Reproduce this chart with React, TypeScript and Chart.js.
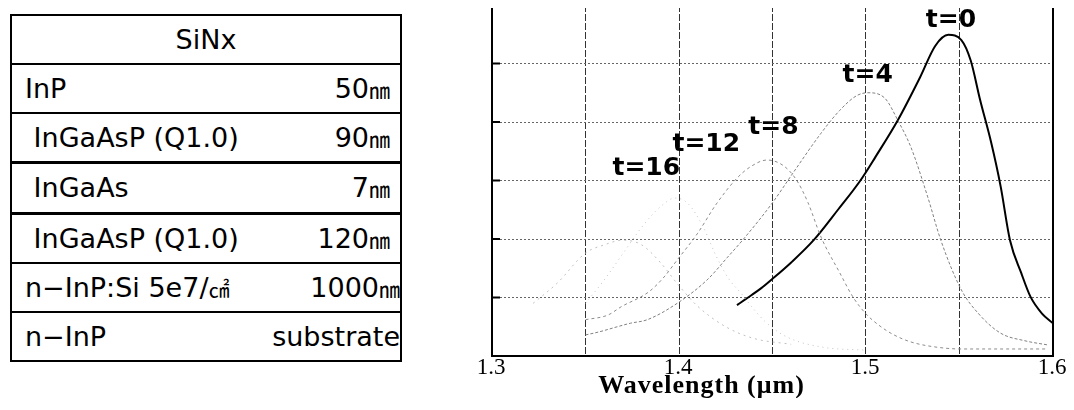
import React, { useEffect, useRef } from 'react';
import { Chart, registerables } from 'chart.js';

Chart.register(...registerables);

// ---- Layer stack (left panel) ----
const layerNames = ['SiNx', 'InP', ' InGaAsP (Q1.0)', ' InGaAs', ' InGaAsP (Q1.0)', 'n−InP:Si 5e7/㎠', 'n−InP'];
const layerThickness = ['', '50㎚', '90㎚', '7㎚', '120㎚', '1000㎚', 'substrate'];

// ---- PL spectra (right panel) ----
const t0Wavelength = [1.431, 1.436, 1.444, 1.45, 1.46, 1.472, 1.485, 1.497, 1.505, 1.517, 1.529, 1.537, 1.544, 1.551, 1.556, 1.561, 1.567, 1.572, 1.577, 1.583, 1.588, 1.594, 1.6];
const t0Intensity = [0.87, 0.98, 1.16, 1.32, 1.6, 1.98, 2.5, 3.0, 3.4, 4.03, 4.77, 5.3, 5.49, 5.4, 5.05, 4.38, 3.64, 2.9, 1.98, 1.42, 1.01, 0.73, 0.56];

const t4Wavelength = [1.35, 1.357, 1.367, 1.374, 1.383, 1.399, 1.415, 1.426, 1.434, 1.45, 1.461, 1.476, 1.486, 1.495, 1.501, 1.51, 1.517, 1.524, 1.533, 1.54, 1.551, 1.56, 1.572, 1.585, 1.597];
const t4Intensity = [0.36, 0.41, 0.5, 0.56, 0.62, 0.9, 1.3, 1.69, 1.98, 2.62, 3.13, 3.81, 4.2, 4.45, 4.5, 4.41, 4.03, 3.57, 2.72, 1.98, 1.13, 0.73, 0.39, 0.26, 0.19];

const t8Wavelength = [1.35, 1.362, 1.369, 1.384, 1.392, 1.399, 1.41, 1.42, 1.431, 1.438, 1.447, 1.456, 1.463, 1.469, 1.476, 1.486, 1.493, 1.5, 1.508, 1.515, 1.524, 1.538, 1.551, 1.575, 1.597];
const t8Intensity = [0.62, 0.7, 0.84, 1.1, 1.35, 1.64, 2.1, 2.6, 3.04, 3.23, 3.35, 3.25, 3.0, 2.62, 2.03, 1.42, 1.01, 0.72, 0.5, 0.36, 0.24, 0.15, 0.12, 0.12, 0.12];

const t12Wavelength = [1.35, 1.36, 1.37, 1.38, 1.39, 1.398, 1.405, 1.413, 1.42, 1.427, 1.433, 1.44, 1.447, 1.458, 1.477, 1.5];
const t12Intensity = [0.9, 1.3, 1.75, 2.2, 2.55, 2.7, 2.6, 2.2, 1.7, 1.3, 1.08, 0.8, 0.56, 0.32, 0.15, 0.1];

const t16Wavelength = [1.322, 1.335, 1.35, 1.36, 1.37, 1.38, 1.39, 1.4, 1.41, 1.425, 1.44, 1.46];
const t16Intensity = [0.9, 1.25, 1.76, 1.9, 1.98, 1.9, 1.6, 1.2, 0.85, 0.5, 0.3, 0.2];

const seriesLabels = ['t=0', 't=4', 't=8', 't=12', 't=16'];
const labelWavelength = [1.5454, 1.5009, 1.4505, 1.4146, 1.3825];
const labelIntensity = [5.74, 4.79, 3.9, 3.62, 3.21];

const xTickValues = [1.3, 1.4, 1.5, 1.6];
const xTitle = 'Wavelength (μm)';

const toPoints = (xs: number[], ys: number[]) => xs.map((x, i) => ({ x, y: ys[i] }));

const framePlugin = {
  id: 'frameAndLabels',
  afterDraw(chart: any) {
    const { ctx, chartArea: a, scales } = chart;
    ctx.save();
    ctx.strokeStyle = '#000';
    ctx.lineWidth = 2;
    ctx.setLineDash([]);
    ctx.strokeRect(a.left, a.top, a.right - a.left, a.bottom - a.top);
    for (let v = 1; v < 6; v++) {
      const y = scales.y.getPixelForValue(v);
      ctx.beginPath();
      ctx.moveTo(a.left, y);
      ctx.lineTo(a.left + 8, y);
      ctx.stroke();
    }
    ctx.font = 'bold 25px "DejaVu Sans"';
    ctx.textAlign = 'center';
    ctx.textBaseline = 'middle';
    ctx.fillStyle = '#000';
    seriesLabels.forEach((s, i) => {
      ctx.fillText(s, scales.x.getPixelForValue(labelWavelength[i]), scales.y.getPixelForValue(labelIntensity[i]));
    });
    ctx.restore();
  },
};

function splitUnits(text: string) {
  const parts: React.ReactNode[] = [];
  let buf = '';
  for (const ch of text) {
    const code = ch.codePointAt(0) || 0;
    if (code >= 0x3380 && code <= 0x33ff) {
      if (buf) parts.push(buf);
      buf = '';
      parts.push(
        <span key={parts.length} style={{ fontFamily: '"Noto Sans CJK KR"', fontSize: 21 }}>
          {ch}
        </span>
      );
    } else buf += ch;
  }
  if (buf) parts.push(buf);
  return parts;
}

function LayerStack() {
  return (
    <div
      style={{
        position: 'absolute',
        left: 2,
        top: 6,
        width: 392,
        height: 348,
        border: '2px solid #000',
        boxSizing: 'border-box',
        display: 'flex',
        flexDirection: 'column',
        fontFamily: '"DejaVu Sans", sans-serif',
        fontSize: 27,
        color: '#000',
        overflow: 'hidden',
      }}
    >
      {layerNames.map((name, i) => (
        <div
          key={i}
          style={{
            flex: 1,
            borderTop: i === 0 ? 'none' : i === 3 || i === 4 ? '3px solid #000' : '2px solid #000',
            display: 'flex',
            alignItems: 'center',
            justifyContent: i === 0 ? 'center' : 'space-between',
            padding: i === 0 ? 0 : i >= 5 ? '0 0 0 13px' : '0 10px 0 13px',
            whiteSpace: 'pre',
          }}
        >
          <span>{splitUnits(name)}</span>
          {layerThickness[i] ? <span>{splitUnits(layerThickness[i])}</span> : null}
        </div>
      ))}
    </div>
  );
}

function Spectra() {
  const ref = useRef<HTMLCanvasElement | null>(null);
  useEffect(() => {
    document.documentElement.style.overflow = 'hidden';
    if (!ref.current) return;
    const mk = (label: string, xs: number[], ys: number[], color: string, width: number, dash: number[]) => ({
      label,
      data: toPoints(xs, ys),
      borderColor: color,
      borderWidth: width,
      borderDash: dash,
      pointRadius: 0,
      fill: false,
      tension: 0.4,
      cubicInterpolationMode: 'monotone' as const,
    });
    const chart = new Chart(ref.current, {
      type: 'line',
      data: {
        datasets: [
          mk('t=16', t16Wavelength, t16Intensity, '#c0c0c0', 1, [2, 4]),
          mk('t=12', t12Wavelength, t12Intensity, '#c4c4c4', 1, [1, 4]),
          mk('t=8', t8Wavelength, t8Intensity, '#8c8c8c', 1, [3, 3]),
          mk('t=4', t4Wavelength, t4Intensity, '#808080', 1, [3, 2]),
          mk('t=0', t0Wavelength, t0Intensity, '#000000', 2, []),
        ],
      },
      options: {
        animation: false,
        responsive: false,
        devicePixelRatio: 1,
        layout: { padding: { left: 22, right: 21, top: 5, bottom: 0 } },
        plugins: { legend: { display: false }, tooltip: { enabled: false }, title: { display: false } },
        scales: {
          x: {
            type: 'linear',
            min: 1.3,
            max: 1.6,
            afterFit: (s: any) => {
              s.height = 29;
            },
            ticks: {
              stepSize: 0.05,
              autoSkip: false,
              maxRotation: 0,
              padding: 0,
              labelOffset: -1,
              color: '#000',
              font: { family: '"Liberation Serif", serif', size: 23, lineHeight: 1 },
              callback: (v: any) => {
                const n = Number(v);
                return xTickValues.some((t) => Math.abs(t - n) < 1e-6) ? n.toFixed(1) : '';
              },
            },
            grid: { color: '#333', lineWidth: 1, drawTicks: false },
            border: { display: false, dash: [7, 2] },
          },
          y: {
            min: 0,
            max: 6,
            afterFit: (s: any) => {
              s.width = 0;
            },
            ticks: { display: false, stepSize: 1 },
            grid: { color: '#666', lineWidth: 1, drawTicks: false },
            border: { display: false, dash: [2, 2] },
          },
        },
      },
      plugins: [framePlugin],
    });
    return () => chart.destroy();
  }, []);
  return (
    <div style={{ position: 'absolute', left: 462, top: -8, width: 604, height: 385 }}>
      <canvas ref={ref} width={604} height={385} style={{ display: 'block' }} />
    </div>
  );
}

export default function App() {
  return (
    <div style={{ position: 'relative', width: 1058, height: 390 }}>
      <LayerStack />
      <Spectra />
      <div
        style={{
          position: 'absolute',
          left: 590,
          top: 364,
          width: 207,
          textAlign: 'center',
          fontFamily: '"Liberation Serif", serif',
          fontWeight: 'bold',
          fontSize: 26,
          lineHeight: '26px',
          letterSpacing: 1,
          whiteSpace: 'nowrap',
          color: '#000',
        }}
      >
        {xTitle}
      </div>
    </div>
  );
}
